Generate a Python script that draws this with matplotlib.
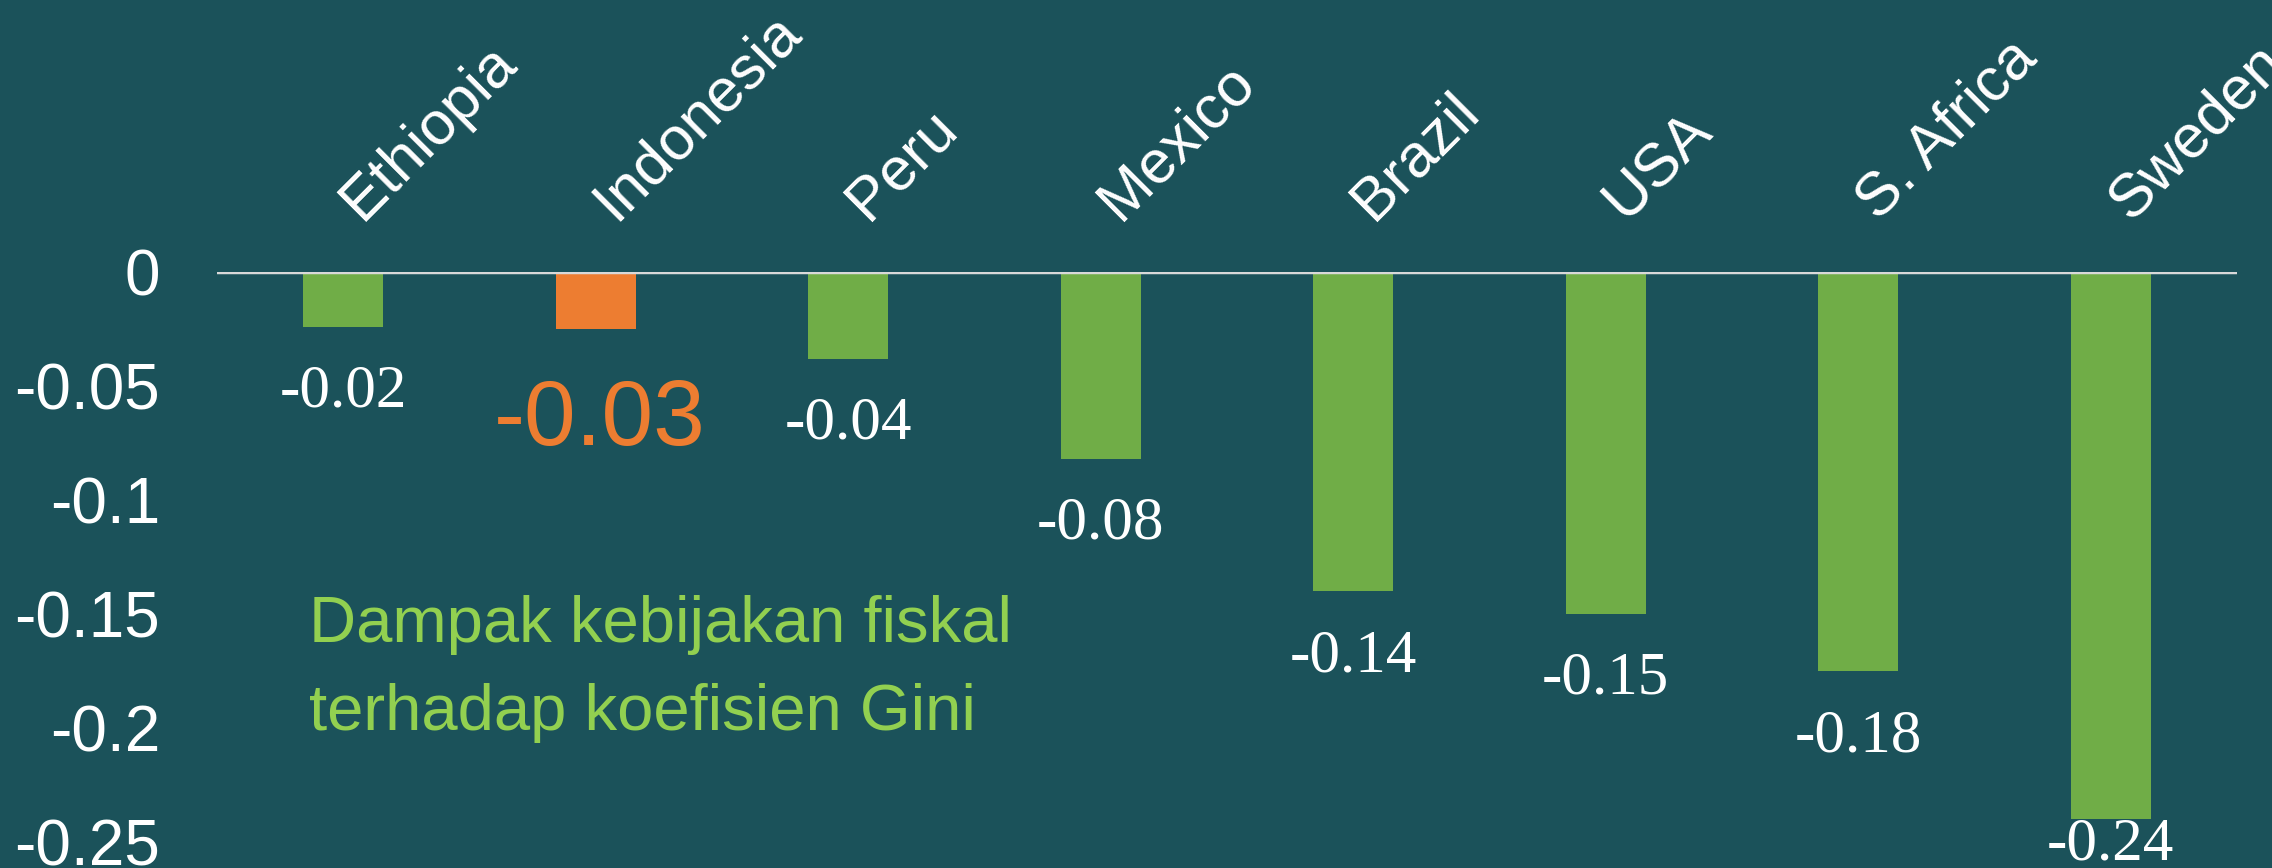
import matplotlib.pyplot as plt

# data
negara = ['Ethiopia', 'Indonesia', 'Peru', 'Mexico', 'Brazil', 'USA', 'S. Africa', 'Sweden']
dampak = [-0.024, -0.025, -0.038, -0.082, -0.140, -0.150, -0.175, -0.240]
label_nilai = ['-0.02', '-0.03', '-0.04', '-0.08', '-0.14', '-0.15', '-0.18', '-0.24']
yticks = [0, -0.05, -0.1, -0.15, -0.2, -0.25]
ytick_labels = ['0', '-0.05', '-0.1', '-0.15', '-0.2', '-0.25']
sorot = 'Indonesia'  # highlighted country
judul = ['Dampak kebijakan fiskal', 'terhadap koefisien Gini']

bg = '#1B525A'
hijau = '#70AD47'
oranye = '#ED7D31'

W, H = 2272, 868
fig = plt.figure(figsize=(W/100, H/100), dpi=100, facecolor=bg)
ax = fig.add_axes([217/W, 1 - 842/H, (2237-217)/W, (842-272)/H])
ax.set_facecolor(bg)

warna = [oranye if n == sorot else hijau for n in negara]
x = list(range(len(negara)))
ax.bar(x, dampak, width=0.317, color=warna, zorder=2)
ax.axhline(0, color='#D9D9D9', lw=2.5, zorder=3)

ax.set_xlim(-0.5, len(negara) - 0.5)
ax.set_ylim(-0.25, 0)
ax.set_xticks([])
ax.set_yticks(yticks)
ax.set_yticklabels(ytick_labels, fontsize=46, color='white', family='Liberation Sans')
ax.tick_params(axis='y', length=0, pad=41)
for s in ax.spines.values():
    s.set_visible(False)

# category labels above the zero line
for i, n in enumerate(negara):
    ax.annotate(n, xy=(i, 1), xycoords=ax.get_xaxis_transform(),
                xytext=(19, 50), textcoords='offset pixels',
                rotation=45, rotation_mode='anchor', ha='left', va='baseline',
                fontsize=44, color='white', family='Liberation Sans',
                annotation_clip=False)

# value labels under the bars (kept inside the picture at the bottom)
for i, (n, v, t) in enumerate(zip(negara, dampak, label_nilai)):
    if n == sorot:
        ax.annotate(t, xy=(i, v), xytext=(4, -116), textcoords='offset pixels',
                    ha='center', va='baseline', fontsize=67, color=oranye,
                    family='Liberation Sans', annotation_clip=False)
    else:
        y_pix = ax.transData.transform((i, v))[1]
        dy = -min(80, y_pix - 8)
        ax.annotate(t, xy=(i, v), xytext=(0, dy), textcoords='offset pixels',
                    ha='center', va='baseline', fontsize=44, color='white',
                    family='Liberation Serif', annotation_clip=False, zorder=4)

for k, baris in enumerate(judul):
    fig.text(309/W, 1 - (642 + 88*k)/H, baris, ha='left', va='baseline',
             fontsize=47, color='#92D050', family='Liberation Sans')

fig.savefig('out.png', dpi=100, facecolor=bg)
